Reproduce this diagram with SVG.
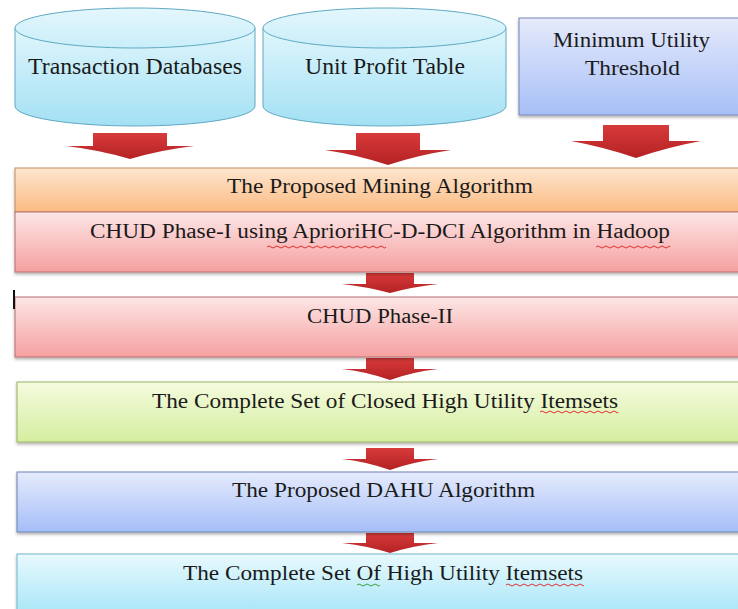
<svg xmlns="http://www.w3.org/2000/svg" width="738" height="609" viewBox="0 0 738 609">
  <defs>
    <linearGradient id="gCyl" x1="0" y1="0" x2="0" y2="1">
      <stop offset="0" stop-color="#e0f6fc"/>
      <stop offset="1" stop-color="#a3e0f4"/>
    </linearGradient>
    <linearGradient id="gCylTop" x1="0" y1="0" x2="0" y2="1">
      <stop offset="0" stop-color="#e4f7fd"/>
      <stop offset="1" stop-color="#c9eef9"/>
    </linearGradient>
    <linearGradient id="gLav" x1="0" y1="0" x2="0" y2="1">
      <stop offset="0" stop-color="#e6eafb"/>
      <stop offset="1" stop-color="#a7bff7"/>
    </linearGradient>
    <linearGradient id="gOrange" x1="0" y1="0" x2="0" y2="1">
      <stop offset="0" stop-color="#fde6d0"/>
      <stop offset="1" stop-color="#fbbb82"/>
    </linearGradient>
    <linearGradient id="gPink" x1="0" y1="0" x2="0" y2="1">
      <stop offset="0" stop-color="#fde6e6"/>
      <stop offset="1" stop-color="#f6a0a0"/>
    </linearGradient>
    <linearGradient id="gGreen" x1="0" y1="0" x2="0" y2="1">
      <stop offset="0" stop-color="#f5fbde"/>
      <stop offset="1" stop-color="#d5eea0"/>
    </linearGradient>
    <linearGradient id="gBlue" x1="0" y1="0" x2="0" y2="1">
      <stop offset="0" stop-color="#e5ebfc"/>
      <stop offset="1" stop-color="#a5bef8"/>
    </linearGradient>
    <linearGradient id="gCyan" x1="0" y1="0" x2="0" y2="1">
      <stop offset="0" stop-color="#e8f9fd"/>
      <stop offset="1" stop-color="#a8e6f8"/>
    </linearGradient>
    <linearGradient id="gArrow" x1="0" y1="0" x2="0" y2="1">
      <stop offset="0" stop-color="#d83a3a"/>
      <stop offset="1" stop-color="#b42224"/>
    </linearGradient>
    <filter id="shadow" x="-5%" y="-20%" width="110%" height="150%">
      <feDropShadow dx="0" dy="2" stdDeviation="1.5" flood-color="#000" flood-opacity="0.3"/>
    </filter>
  </defs>
  <style>
    text { fill: #1a1a1a; text-anchor: middle; }
    .big { font-size: 23px; }
    .mid { font-size: 21px; }
    .lbl { font-size: 20px; }
    .cyl { fill: url(#gCyl); stroke: #5fa9c2; stroke-width: 1; }
    .cyltop { fill: url(#gCylTop); stroke: #5fa9c2; stroke-width: 1; }
    .box { stroke-width: 1; filter: url(#shadow); }
    .arrow { fill: url(#gArrow); }
    .squig { fill: none; stroke: #e03030; stroke-width: 1; }
    .squigG { fill: none; stroke: #3aa040; stroke-width: 1; }
  </style>

  <rect width="738" height="609" fill="#ffffff"/>

  <!-- connectors: block arrows -->
  <g id="connectors">
    <path class="arrow" d="M93 133 H167 V146 H194 Q160 150 130 159 Q100 150 66 146 H93 Z"/>
    <path class="arrow" d="M356 133 H420 V150 H451 Q418 155 388 165 Q358 155 325 150 H356 Z"/>
    <path class="arrow" d="M603 125 H669 V141 H701 Q668 147 636 158 Q604 147 571 141 H603 Z"/>
    <path class="arrow" d="M366 273 H414 V284 H438 Q412 287 390 293 Q368 287 342 284 H366 Z"/>
    <path class="arrow" d="M366 358 H414 V369 H438 Q412 372 390 380 Q368 372 342 369 H366 Z"/>
    <path class="arrow" d="M366 448 H414 V459 H438 Q412 462 390 470 Q368 462 342 459 H366 Z"/>
    <path class="arrow" d="M366 533 H414 V543 H438 Q412 546 390 553 Q368 546 342 543 H366 Z"/>
  </g>

  <g font-family="'Liberation Serif', 'Times New Roman', 'DejaVu Serif', serif">
  <!-- input stores -->
  <g id="transaction-db">
    <path class="cyl" d="M15 28 V106 A120 20 0 0 0 255 106 V28"/>
    <ellipse class="cyltop" cx="135" cy="28" rx="120" ry="20"/>
    <text class="big" x="135" y="74" textLength="214" lengthAdjust="spacingAndGlyphs">Transaction Databases</text>
  </g>
  <g id="unit-profit">
    <path class="cyl" d="M263 28 V106 A121.5 20 0 0 0 506 106 V28"/>
    <ellipse class="cyltop" cx="384.5" cy="28" rx="121.5" ry="20"/>
    <text class="big" x="385" y="74" textLength="160" lengthAdjust="spacingAndGlyphs">Unit Profit Table</text>
  </g>
  <g id="min-utility">
    <rect class="box" x="519" y="18" width="225" height="97" fill="url(#gLav)" stroke="#7486b6"/>
    <text class="mid" x="631.5" y="47" textLength="157" lengthAdjust="spacingAndGlyphs">Minimum Utility</text>
    <text class="mid" x="632.5" y="75" textLength="95" lengthAdjust="spacingAndGlyphs">Threshold</text>
  </g>

  <!-- processing stages -->
  <g id="mining-algorithm">
    <rect class="box" x="15" y="168" width="730" height="44" fill="url(#gOrange)" stroke="#c48a5c"/>
    <text class="lbl" x="380" y="193" textLength="306" lengthAdjust="spacingAndGlyphs">The Proposed Mining Algorithm</text>
  </g>
  <g id="chud-phase1">
    <rect class="box" x="15" y="212" width="730" height="60" fill="url(#gPink)" stroke="#b86e6e"/>
    <text class="lbl" x="380" y="238" textLength="580" lengthAdjust="spacingAndGlyphs">CHUD Phase-I using AprioriHC-D-DCI Algorithm in Hadoop</text>
    <path class="squig" d="M267 247 q2 -2 4 0 t4 0 t4 0 t4 0 t4 0 t4 0 t4 0 t4 0 t4 0 t4 0 t4 0 t4 0 t4 0 t4 0 t4 0 t4 0 t4 0 t4 0 t4 0 t4 0 t4 0 t4 0 t4 0 t4 0 t4 0 t4 0 t4 0 t4 0 t4 0 t3 0"/>
    <path class="squig" d="M596 247 q2 -2 4 0 t4 0 t4 0 t4 0 t4 0 t4 0 t4 0 t4 0 t4 0 t4 0 t4 0 t4 0 t4 0 t4 0 t4 0 t4 0 t4 0 t4 0 t2 0"/>
  </g>
  <g id="chud-phase2">
    <rect class="box" x="15" y="297" width="730" height="60" fill="url(#gPink)" stroke="#b86e6e"/>
    <text class="lbl" x="380" y="323" textLength="146" lengthAdjust="spacingAndGlyphs">CHUD Phase-II</text>
    <line x1="14" y1="290" x2="14" y2="309" stroke="#111" stroke-width="2"/>
  </g>
  <g id="closed-itemsets">
    <rect class="box" x="17" y="382" width="730" height="60" fill="url(#gGreen)" stroke="#9cb064"/>
    <text class="lbl" x="385" y="408" textLength="466" lengthAdjust="spacingAndGlyphs">The Complete Set of Closed High Utility Itemsets</text>
    <path class="squig" d="M540 412 q2 -2 4 0 t4 0 t4 0 t4 0 t4 0 t4 0 t4 0 t4 0 t4 0 t4 0 t4 0 t4 0 t4 0 t4 0 t4 0 t4 0 t4 0 t4 0 t4 0 t2 0"/>
  </g>
  <g id="dahu-algorithm">
    <rect class="box" x="17" y="472" width="730" height="60" fill="url(#gBlue)" stroke="#6c82b2"/>
    <text class="lbl" x="383.5" y="497" textLength="303" lengthAdjust="spacingAndGlyphs">The Proposed DAHU Algorithm</text>
  </g>
  <g id="high-utility-itemsets">
    <rect class="box" x="17" y="554" width="730" height="60" fill="url(#gCyan)" stroke="#72b8cc"/>
    <text class="lbl" x="383" y="580" textLength="400" lengthAdjust="spacingAndGlyphs">The Complete Set Of High Utility Itemsets</text>
    <path class="squigG" d="M357 585 q2 -2 4 0 t4 0 t4 0 t4 0 t4 0 t3 0"/>
    <path class="squig" d="M506 585 q2 -2 4 0 t4 0 t4 0 t4 0 t4 0 t4 0 t4 0 t4 0 t4 0 t4 0 t4 0 t4 0 t4 0 t4 0 t4 0 t4 0 t4 0 t4 0 t4 0 t1 0"/>
  </g>
  </g>
</svg>
